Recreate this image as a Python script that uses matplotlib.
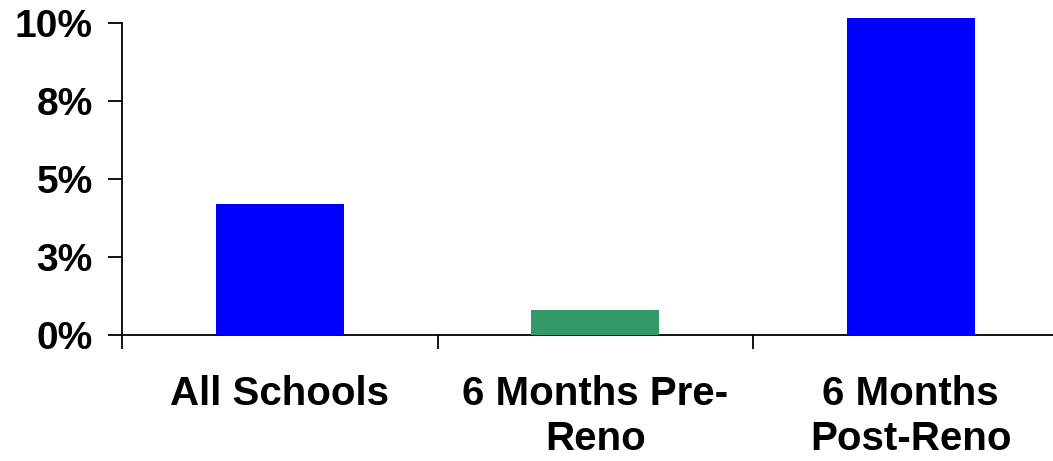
import numpy as np
import matplotlib.pyplot as plt

# ---------------------------------------
# Data
# ---------------------------------------

categories = ["All Schools", "6 Months Pre-\nReno", "6 Months\nPost-Reno"]
rates = [4.2, 0.8, 10.14]
colors = ["#0000FF", "#339966", "#0000FF"]

ytick_values = [0, 2.5, 5, 7.5, 10]
ytick_labels = ["0%", "3%", "5%", "8%", "10%"]

plt.rcParams["font.family"] = ["Liberation Sans", "DejaVu Sans"]
plt.rcParams["font.weight"] = "bold"

# ---------------------------------------
# Plot
# ---------------------------------------

fig = plt.figure(figsize=(10.53, 4.61), dpi=100)
ax = fig.add_axes([122 / 1053, 126 / 461, 946.5 / 1053, 312.3 / 461])

x = np.arange(len(categories))
bars = ax.bar(x, rates, width=0.405, color=colors, clip_on=False, zorder=3)

ax.set_xlim(-0.5, len(categories) - 0.5)
ax.set_ylim(0, 10)

# category boundaries get the tick marks, labels sit at the centres
ax.set_xticks(np.arange(-0.5, len(categories), 1.0))
ax.set_xticklabels([])
ax.set_xticks(x, minor=True)
ax.set_xticklabels(categories, minor=True, fontsize=29, fontweight="bold",
                   linespacing=1.22)
ax.tick_params(axis="x", which="major", direction="out", length=10, width=1.3)
ax.tick_params(axis="x", which="minor", length=0, pad=29)

ax.set_yticks(ytick_values)
ax.set_yticklabels(ytick_labels, fontsize=28, fontweight="bold")
ax.tick_params(axis="y", direction="out", length=10, width=1.3, pad=11)

for side in ["top", "right"]:
    ax.spines[side].set_visible(False)
for side in ["left", "bottom"]:
    ax.spines[side].set_linewidth(1.3)

fig.savefig("out.png", dpi=100)
